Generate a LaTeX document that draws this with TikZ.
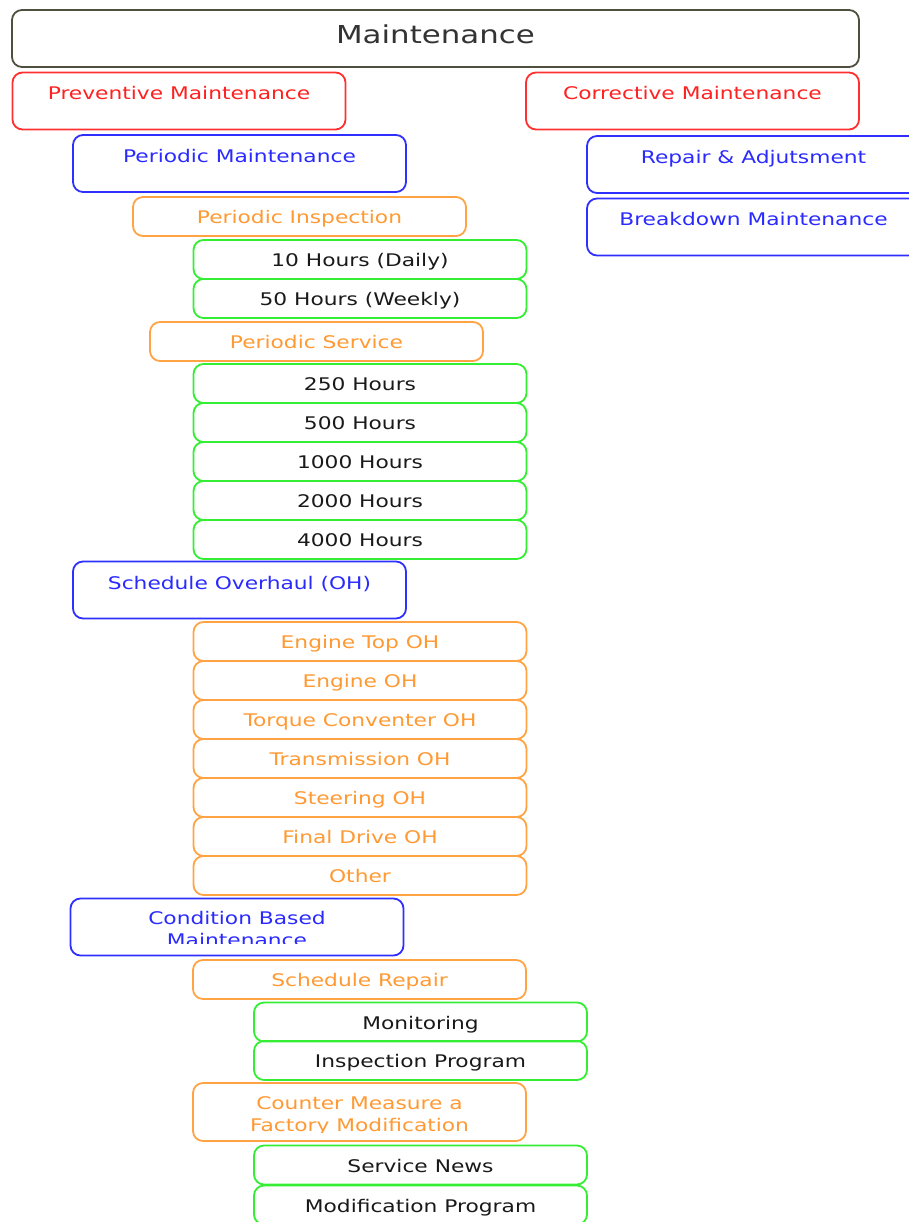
\documentclass[tikz,border=0pt]{standalone}
\usepackage{fontspec}
\setmainfont[FakeStretch=1.25]{DejaVu Sans}
\usepackage{tikz}
\definecolor{titleline}{HTML}{4F4F3F}
\definecolor{titletext}{HTML}{333333}
\definecolor{redline}{HTML}{FF3030}
\definecolor{redtext}{HTML}{FF2020}
\definecolor{blueline}{HTML}{2F2FFF}
\definecolor{bluetext}{HTML}{2A2AFF}
\definecolor{orangeline}{HTML}{FFA345}
\definecolor{orangetext}{HTML}{FF9933}
\definecolor{greenline}{HTML}{33EE33}
\newcommand\mtbodyfont{\fontsize{17.4}{22}\selectfont}
\newcommand\mttitlefont{\fontsize{24.7}{30}\selectfont}
\tikzset{
  box/.style={
    draw,
    line width=1.8pt,
    rounded corners=10pt,
    minimum width=333pt,
    inner sep=0pt,
    align=center,
    font=\mtbodyfont
  },
  short box/.style={box, minimum height=39pt, text height=14pt, text depth=0pt},
  tall box/.style={box, minimum height=57pt, text height=14pt, text depth=16pt},
  two lines/.style={text height=39pt, text depth=0pt},
  title box/.style={box, minimum width=847pt, minimum height=57pt, draw=titleline,
    text=titletext, font=\mttitlefont, text height=11pt, text depth=0pt},
  red box/.style={tall box, draw=redline, text=redtext},
  blue box/.style={tall box, draw=blueline, text=bluetext},
  orange box/.style={short box, draw=orangeline, text=orangetext},
  green box/.style={short box, draw=greenline, text=black!90}
}
\begin{document}
\begin{tikzpicture}[x=1pt, y=-1pt]
  \useasboundingbox (0,0) rectangle (908,1222);

  % Title
  \node[title box] (maint) at (435.5, 38.5) {Maintenance};

  % Main branches
  \node[red box] (prev) at (179, 101) {Preventive Maintenance};
  \node[red box] (corr) at (692.5, 101) {Corrective Maintenance};

  % Corrective side
  \node[blue box] (repair) at (753.5, 164.5) {Repair \& Adjutsment};
  \node[blue box] (breakdown) at (753.5, 227) {Breakdown Maintenance};

  % Periodic maintenance
  \node[blue box] (permaint) at (239.5, 163.5) {Periodic Maintenance};
  \node[orange box] (perinsp) at (299.5, 216.5) {Periodic Inspection};
  \node[green box] (h10) at (360, 259.5) {10 Hours (Daily)};
  \node[green box] (h50) at (360, 298.5) {50 Hours (Weekly)};
  \node[orange box] (perserv) at (316.5, 341.5) {Periodic Service};
  \node[green box] (h250) at (360, 383.5) {250 Hours};
  \node[green box] (h500) at (360, 422.5) {500 Hours};
  \node[green box] (h1000) at (360, 461.5) {1000 Hours};
  \node[green box] (h2000) at (360, 500.5) {2000 Hours};
  \node[green box] (h4000) at (360, 539.5) {4000 Hours};

  % Schedule overhaul
  \node[blue box] (overhaul) at (239.5, 590) {Schedule Overhaul (OH)};
  \node[orange box] (enginetop) at (360, 641.5) {Engine Top OH};
  \node[orange box] (engine) at (360, 680.5) {Engine OH};
  \node[orange box] (torque) at (360, 719.5) {Torque Conventer OH};
  \node[orange box] (transm) at (360, 758.5) {Transmission OH};
  \node[orange box] (steering) at (360, 797.5) {Steering OH};
  \node[orange box] (finaldrive) at (360, 836.5) {Final Drive OH};
  \node[orange box] (other) at (360, 875.5) {Other};

  % Condition based maintenance
  \node[blue box] (cbm) at (237, 927) {};
  \begin{scope}
    \clip (71,898) rectangle (403,943);
    \node[blue box, draw=none, two lines] (cbmtext) at (237, 927) {Condition Based\\Maintenance};
  \end{scope}
  \node[orange box] (schedrep) at (359.5, 979.5) {Schedule Repair};
  \node[green box] (monitor) at (420.5, 1022) {Monitoring};
  \node[green box] (insprog) at (420.5, 1060.5) {Inspection Program};
  \node[orange box, minimum height=58pt] (counter) at (359.5, 1112) {};
  \begin{scope}
    \clip (193,1083) rectangle (526,1132);
    \node[orange box, draw=none, two lines] (countertext) at (359.5, 1112) {Counter Measure a\\Factory Modification};
  \end{scope}
  \node[green box] (news) at (420.5, 1165) {Service News};
  \node[green box] (modprog) at (420.5, 1205) {Modification Program};
\end{tikzpicture}
\end{document}
